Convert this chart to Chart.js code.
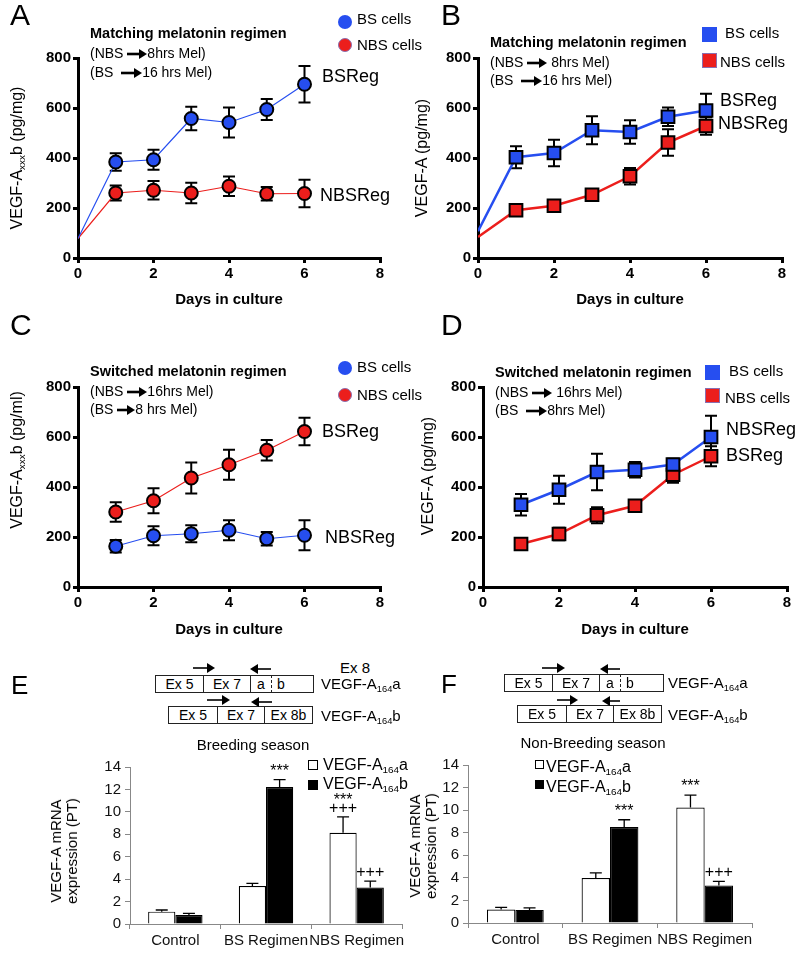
<!DOCTYPE html>
<html>
<head>
<meta charset="utf-8">
<script src="https://cdn.jsdelivr.net/npm/chart.js@4.4.1/dist/chart.umd.min.js"></script>
<style>
  body { margin: 0; background: #fff; }
  #fig { position: relative; width: 800px; height: 957px; overflow: hidden; font-family: "Liberation Sans", Arial, sans-serif; color: #000; }
  #fig canvas { position: absolute; }
  .t { position: absolute; white-space: nowrap; line-height: 1; }
  .t sub { font-size: 0.62em; vertical-align: -0.3em; line-height: 0; }
  .rot { transform: translate(-50%, -50%) rotate(-90deg); text-align: center; }
  .cell { position: absolute; box-sizing: border-box; border: 1px solid #222; font-size: 14px; text-align: center; }
  .sq { position: absolute; box-sizing: border-box; }
</style>
</head>
<body>
<div id="fig">
  <canvas id="chartA" width="400" height="309" style="left:0;top:0"></canvas>
  <canvas id="chartB" width="400" height="309" style="left:400px;top:0"></canvas>
  <canvas id="chartC" width="400" height="309" style="left:0;top:330px"></canvas>
  <canvas id="chartD" width="400" height="309" style="left:400px;top:330px"></canvas>
  <canvas id="chartE" width="420" height="217" style="left:0;top:740px"></canvas>
  <canvas id="chartF" width="400" height="217" style="left:400px;top:740px"></canvas>
</div>
<script>
// days in culture
const daysAB = [0, 1, 2, 3, 4, 5, 6];
const daysCD = [1, 2, 3, 4, 5, 6];

// A - matching regimen, VEGF-Axxxb
const aBS = [78, 384, 393, 558, 542, 594, 695];
const aBSErr = [0, 35, 40, 47, 60, 42, 73];
const aNBS = [78, 260, 271, 260, 287, 257, 258];
const aNBSErr = [0, 30, 37, 41, 39, 27, 55];

// B - matching regimen, VEGF-A
const bBS = [107, 403, 420, 511, 504, 565, 590];
const bBSErr = [0, 44, 53, 56, 47, 37, 67];
const bNBS = [84, 191, 209, 253, 327, 462, 528];
const bNBSErr = [0, 18, 15, 15, 33, 53, 35];

// C - switched regimen, VEGF-Axxxb
const cBS = [163, 205, 213, 227, 193, 207];
const cBSErr = [25, 38, 34, 40, 27, 60];
const cNBS = [300, 345, 436, 489, 547, 622];
const cNBSErr = [39, 50, 62, 60, 41, 55];

// D - switched regimen, VEGF-A
const dBS = [329, 389, 460, 469, 490, 600];
const dBSErr = [43, 56, 73, 31, 23, 85];
const dNBS = [172, 212, 287, 325, 449, 523];
const dNBSErr = [20, 25, 32, 22, 32, 40];

// E / F - mRNA expression
const regimens = ['Control', 'BS Regimen', 'NBS Regimen'];
const eA = [1.1, 3.38, 8.13];
const eAErr = [0.15, 0.24, 1.42];
const eAMarks = [null, null, ['+++', '***']];
const eB = [0.8, 12.22, 3.26];
const eBErr = [0.15, 0.65, 0.56];
const eBMarks = [null, ['***'], ['+++']];
const fA = [1.19, 3.98, 10.23];
const fAErr = [0.2, 0.47, 1.1];
const fAMarks = [null, null, ['***']];
const fB = [1.16, 8.5, 3.33];
const fBErr = [0.18, 0.65, 0.36];
const fBMarks = [null, ['***'], ['+++']];

const FONT = '"Liberation Sans", Arial, sans-serif';
const BLUE = 'rgb(38, 78, 240)';
const RED = 'rgb(236, 30, 28)';
Chart.defaults.font.family = FONT;
Chart.defaults.color = '#000';

const fig = document.getElementById('fig');

// error bars drawn from dataset.errors
function drawErrors(chart, opts) {
  const ctx = chart.ctx;
  const ys = chart.scales.y;
  ctx.save();
  ctx.strokeStyle = '#000';
  ctx.lineWidth = opts.width;
  chart.data.datasets.forEach((ds, i) => {
    if (!ds.errors) return;
    chart.getDatasetMeta(i).data.forEach((el, j) => {
      const e = ds.errors[j];
      if (!e) return;
      const raw = ds.data[j];
      const v = typeof raw === 'object' ? raw.y : raw;
      const top = ys.getPixelForValue(v + e);
      const bot = opts.upOnly ? el.y : ys.getPixelForValue(v - e);
      ctx.beginPath();
      ctx.moveTo(el.x, top);
      ctx.lineTo(el.x, bot);
      ctx.moveTo(el.x - opts.cap, top);
      ctx.lineTo(el.x + opts.cap, top);
      if (!opts.upOnly) {
        ctx.moveTo(el.x - opts.cap, bot);
        ctx.lineTo(el.x + opts.cap, bot);
      }
      ctx.stroke();
    });
  });
  ctx.restore();
}
const errorBars = {
  id: 'errorBars',
  beforeDatasetsDraw(chart, args, opts) { if (opts.under) drawErrors(chart, opts); },
  afterDatasetsDraw(chart, args, opts) { if (!opts.under) drawErrors(chart, opts); }
};

// significance marks above error bars
const sigMarks = {
  id: 'sigMarks',
  afterDatasetsDraw(chart) {
    const ctx = chart.ctx;
    const ys = chart.scales.y;
    ctx.save();
    ctx.fillStyle = '#000';
    ctx.font = '16px ' + FONT;
    ctx.textAlign = 'center';
    ctx.textBaseline = 'alphabetic';
    chart.data.datasets.forEach((ds, i) => {
      if (!ds.marks) return;
      chart.getDatasetMeta(i).data.forEach((el, j) => {
        const m = ds.marks[j];
        if (!m) return;
        let y = ys.getPixelForValue(ds.data[j] + (ds.errors[j] || 0)) - 4;
        m.forEach(s => { ctx.fillText(s, el.x, y); y -= 8; });
      });
    });
    ctx.restore();
  }
};

function lineSet(xs, ys, errs, color, style, radius, width) {
  return {
    data: xs.map((d, i) => ({ x: d, y: ys[i] })),
    errors: errs,
    borderColor: color,
    borderWidth: width,
    pointStyle: style,
    pointRadius: xs.map(d => (d === 0 ? 0 : radius)),
    pointBackgroundColor: color,
    pointBorderColor: '#000',
    pointBorderWidth: 2,
    fill: false,
    tension: 0
  };
}

function lineChart(id, box, datasets) {
  const axisFont = { size: 15, weight: 'bold' };
  const grid = { drawOnChartArea: false, color: '#000', lineWidth: 3, tickLength: 5 };
  const border = { color: '#000', width: 3 };
  return new Chart(document.getElementById(id), {
    type: 'line',
    data: { datasets },
    options: {
      responsive: false,
      animation: false,
      devicePixelRatio: 1,
      layout: { padding: { left: 0, top: box.top, right: box.right, bottom: 0 }, autoPadding: false },
      plugins: {
        legend: { display: false },
        tooltip: { enabled: false },
        errorBars: { under: true, cap: 6, width: 2 }
      },
      scales: {
        x: {
          type: 'linear', min: 0, max: 8,
          ticks: { stepSize: 2, font: axisFont, padding: 2 },
          grid, border,
          title: { display: true, text: 'Days in culture', font: axisFont, padding: 0 },
          afterFit: s => { s.height = box.xh; }
        },
        y: {
          min: 0, max: 800,
          ticks: { stepSize: 200, font: axisFont, padding: 2 },
          grid, border,
          afterFit: s => { s.width = box.yw; }
        }
      }
    },
    plugins: [errorBars]
  });
}

function barChart(id, box, aVals, aErr, aMarks, bVals, bErr, bMarks) {
  const grid = { drawOnChartArea: false, color: '#888', lineWidth: 1, tickLength: 5 };
  const border = { color: '#888', width: 1 };
  return new Chart(document.getElementById(id), {
    type: 'bar',
    data: {
      labels: regimens,
      datasets: [
        { data: aVals, errors: aErr, marks: aMarks, backgroundColor: '#fff', borderColor: '#000', borderWidth: 1.2, categoryPercentage: 0.6, barPercentage: 1 },
        { data: bVals, errors: bErr, marks: bMarks, backgroundColor: '#000', borderColor: '#000', borderWidth: 1.2, categoryPercentage: 0.6, barPercentage: 1 }
      ]
    },
    options: {
      responsive: false,
      animation: false,
      devicePixelRatio: 1,
      layout: { padding: { left: 0, top: box.top, right: box.right, bottom: 0 }, autoPadding: false },
      plugins: {
        legend: { display: false },
        tooltip: { enabled: false },
        errorBars: { under: false, upOnly: true, cap: 6, width: 1.3 }
      },
      scales: {
        x: {
          ticks: { font: { size: 15 }, color: '#111', padding: 3, maxRotation: 0, minRotation: 0, autoSkip: false },
          grid: Object.assign({ offset: true }, grid), border,
          afterFit: s => { s.height = box.xh; }
        },
        y: {
          min: 0, max: 14,
          ticks: { stepSize: 2, font: { size: 15 }, color: '#111', padding: 4 },
          grid, border,
          afterFit: s => { s.width = box.yw; }
        }
      }
    },
    plugins: [errorBars, sigMarks]
  });
}

lineChart('chartA', { top: 58, right: 20, xh: 51, yw: 78 }, [
  lineSet(daysAB, aBS, aBSErr, BLUE, 'circle', 6.5, 1.2),
  lineSet(daysAB, aNBS, aNBSErr, RED, 'circle', 6.5, 1.2)
]);
lineChart('chartB', { top: 58, right: 18, xh: 51, yw: 78 }, [
  lineSet(daysAB, bBS, bBSErr, BLUE, 'rect', 9, 2.5),
  lineSet(daysAB, bNBS, bNBSErr, RED, 'rect', 9, 2.5)
]);
lineChart('chartC', { top: 57, right: 20, xh: 52, yw: 78 }, [
  lineSet(daysCD, cBS, cBSErr, BLUE, 'circle', 6.5, 1.2),
  lineSet(daysCD, cNBS, cNBSErr, RED, 'circle', 6.5, 1.2)
]);
lineChart('chartD', { top: 57, right: 13, xh: 52, yw: 83 }, [
  lineSet(daysCD, dBS, dBSErr, BLUE, 'rect', 9, 2.5),
  lineSet(daysCD, dNBS, dNBSErr, RED, 'rect', 9, 2.5)
]);
barChart('chartE', { top: 27, right: 18, xh: 33, yw: 130 }, eA, eAErr, eAMarks, eB, eBErr, eBMarks);
barChart('chartF', { top: 25, right: 48, xh: 34, yw: 68 }, fA, fAErr, fAMarks, fB, fBErr, fBMarks);

// ---- text and schematic overlays ----
function txt(x, cy, size, html, extra) {
  const d = document.createElement('div');
  d.className = 't';
  d.style.left = x + 'px';
  d.style.top = (cy - size * 0.52) + 'px';
  d.style.fontSize = size + 'px';
  d.innerHTML = html;
  if (extra) Object.assign(d.style, extra);
  fig.appendChild(d);
  return d;
}
function vtxt(cx, cy, size, html, lh) {
  const d = document.createElement('div');
  d.className = 't rot';
  d.style.left = cx + 'px';
  d.style.top = cy + 'px';
  d.style.fontSize = size + 'px';
  if (lh) d.style.lineHeight = lh + 'px';
  d.innerHTML = html;
  fig.appendChild(d);
}
function arrow(w, dir, sw) {
  const head = dir > 0 ? `${w - 8},0 ${w},5 ${w - 8},10` : `8,0 0,5 8,10`;
  const x1 = dir > 0 ? 0 : 5;
  const x2 = dir > 0 ? w - 5 : w;
  return `<svg width="${w}" height="10" style="vertical-align:middle;overflow:visible"><line x1="${x1}" y1="5" x2="${x2}" y2="5" stroke="#000" stroke-width="${sw}"/><polygon points="${head}" fill="#000"/></svg>`;
}
function box(x, y, w, h, style) {
  const d = document.createElement('div');
  d.className = 'sq';
  Object.assign(d.style, { left: x + 'px', top: y + 'px', width: w + 'px', height: h + 'px' }, style);
  fig.appendChild(d);
}
function geneRow(x0, y0, y1, cells) {
  let x = x0;
  let noLeft = false;
  cells.forEach(([x1, label, dashed, align]) => {
    const d = document.createElement('div');
    d.className = 'cell';
    Object.assign(d.style, {
      left: x + 'px', top: y0 + 'px', width: (x1 - x + 1) + 'px', height: (y1 - y0) + 'px',
      lineHeight: (y1 - y0 - 2) + 'px'
    });
    if (noLeft) d.style.borderLeft = 'none';
    if (dashed) d.style.borderRight = '1px dashed #222';
    if (align) { d.style.textAlign = 'left'; d.style.paddingLeft = align + 'px'; }
    d.textContent = label;
    fig.appendChild(d);
    noLeft = !!dashed;
    x = x1;
  });
}
function geneArrow(x0, x1, cy, dir) {
  txt(x0, cy + 0.5, 10, arrow(x1 - x0, dir, 1.6));
}

// panel letters
txt(10, 16, 30, 'A');
txt(441, 16, 30, 'B');
txt(10, 326, 30, 'C');
txt(441, 326, 30, 'D');
txt(11, 686, 26, 'E');
txt(441, 685, 26, 'F');

// regimen notes
const bold = { fontWeight: 'bold' };
txt(90, 34, 14.5, 'Matching melatonin regimen', bold);
txt(90, 53, 14, '(NBS ' + arrow(20, 1, 2.6) + '8hrs Mel)');
txt(90, 72, 14, '(BS &nbsp;' + arrow(21, 1, 2.6) + '16 hrs Mel)');
txt(490, 43, 14.5, 'Matching melatonin regimen', bold);
txt(490, 62, 14, '(NBS ' + arrow(20, 1, 2.6) + ' 8hrs Mel)');
txt(490, 80, 14, '(BS &nbsp;' + arrow(21, 1, 2.6) + '16 hrs Mel)');
txt(90, 372, 14.5, 'Switched melatonin regimen', bold);
txt(90, 391, 14, '(NBS ' + arrow(20, 1, 2.6) + '16hrs Mel)');
txt(90, 409, 14, '(BS ' + arrow(18, 1, 2.6) + '8 hrs Mel)');
txt(495, 373, 14.5, 'Switched melatonin regimen', bold);
txt(495, 392, 14, '(NBS ' + arrow(20, 1, 2.6) + ' 16hrs Mel)');
txt(495, 410, 14, '(BS &nbsp;' + arrow(21, 1, 2.6) + '8hrs Mel)');

// series labels
txt(322, 76, 18, 'BSReg');
txt(320, 195, 18, 'NBSReg');
txt(720, 100, 18, 'BSReg');
txt(718, 123, 18, 'NBSReg');
txt(322, 431, 18, 'BSReg');
txt(325, 537, 18, 'NBSReg');
txt(726, 429, 18, 'NBSReg');
txt(726, 455, 18, 'BSReg');

// legends
box(338, 15, 14, 14, { background: BLUE, borderRadius: '50%' });
txt(357, 19, 15, 'BS cells');
box(338, 38, 14, 14, { background: RED, borderRadius: '50%', border: '1px solid #8a6fb0' });
txt(357, 45, 15, 'NBS cells');
box(702, 27, 15, 15, { background: BLUE });
txt(725, 33, 15, 'BS cells');
box(702, 53, 15, 15, { background: RED, border: '1px solid #8a6fb0' });
txt(720, 62, 15, 'NBS cells');
box(338, 361, 14, 14, { background: BLUE, borderRadius: '50%' });
txt(357, 367, 15, 'BS cells');
box(338, 388, 14, 14, { background: RED, borderRadius: '50%', border: '1px solid #8a6fb0' });
txt(357, 395, 15, 'NBS cells');
box(705, 365, 15, 15, { background: BLUE });
txt(729, 371, 15, 'BS cells');
box(705, 388, 15, 15, { background: RED, border: '1px solid #8a6fb0' });
txt(725, 398, 15, 'NBS cells');

// axis titles
vtxt(17, 158, 16, 'VEGF-A<sub>xxx</sub>b (pg/mg)');
vtxt(422, 158, 16, 'VEGF-A (pg/mg)');
vtxt(17, 460, 16, 'VEGF-A<sub>xxx</sub>b (pg/ml)');
vtxt(428, 476, 16, 'VEGF-A (pg/mg)');
vtxt(64, 851, 15, 'VEGF-A mRNA<br>expression (PT)', 16);
vtxt(423, 846, 15, 'VEGF-A mRNA<br>expression (PT)', 16);

// bar chart titles and legends
txt(253, 745, 15, 'Breeding season', { transform: 'translateX(-50%)' });
txt(593, 743, 15, 'Non-Breeding season', { transform: 'translateX(-50%)' });
box(308, 760, 10, 10, { border: '1px solid #000', background: '#fff' });
txt(323, 765, 16, 'VEGF-A<sub>164</sub>a');
box(308, 780, 10, 10, { background: '#000' });
txt(323, 784, 16, 'VEGF-A<sub>164</sub>b');
box(535, 760, 9, 9, { border: '1px solid #000', background: '#fff' });
txt(546, 767, 16, 'VEGF-A<sub>164</sub>a');
box(535, 780, 9, 9, { background: '#000' });
txt(546, 787, 16, 'VEGF-A<sub>164</sub>b');

// exon schematics
geneRow(155, 675, 693, [[203, 'Ex 5'], [250, 'Ex 7'], [271, 'a', true], [313, 'b', false, 6]]);
geneRow(168, 706, 724, [[217, 'Ex 5'], [264, 'Ex 7'], [312, 'Ex 8b']]);
geneArrow(193, 215, 667, 1);
geneArrow(250, 271, 668, -1);
geneArrow(207, 230, 699, 1);
geneArrow(251, 272, 701, -1);
txt(340, 668, 15, 'Ex 8');
txt(321, 684, 15, 'VEGF-A<sub>164</sub>a');
txt(321, 716, 15, 'VEGF-A<sub>164</sub>b');

geneRow(504, 674, 692, [[552, 'Ex 5'], [599, 'Ex 7'], [620, 'a', true], [663, 'b', false, 6]]);
geneRow(517, 705, 723, [[566, 'Ex 5'], [613, 'Ex 7'], [661, 'Ex 8b']]);
geneArrow(542, 565, 667, 1);
geneArrow(600, 620, 668, -1);
geneArrow(557, 578, 699, 1);
geneArrow(602, 620, 700, -1);
txt(668, 683, 15, 'VEGF-A<sub>164</sub>a');
txt(668, 715, 15, 'VEGF-A<sub>164</sub>b');
</script>
</body>
</html>
